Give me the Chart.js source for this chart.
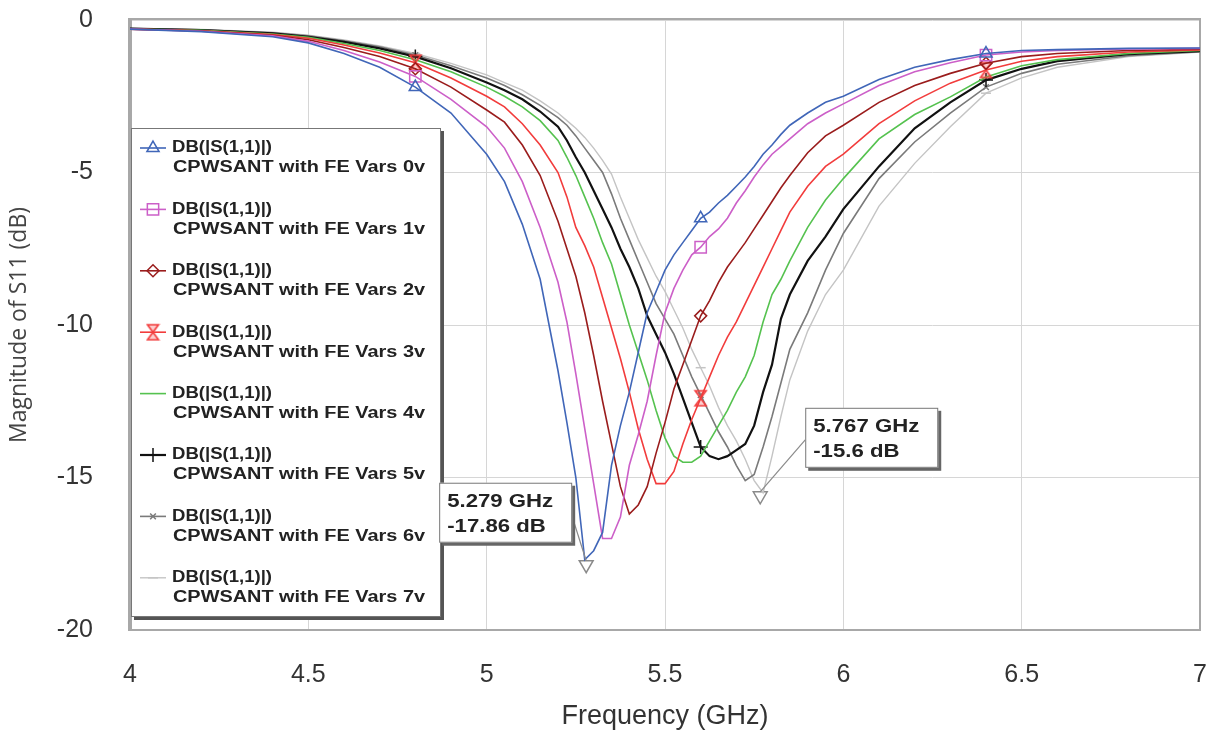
<!DOCTYPE html>
<html>
<head>
<meta charset="utf-8">
<script src="https://cdn.jsdelivr.net/npm/chart.js@4.4.1/dist/chart.umd.min.js"></script>
<style>
  html, body { margin: 0; padding: 0; background: #fff; }
  #wrap { width: 1214px; height: 734px; }
</style>
</head>
<body>
<div id="wrap"><canvas id="myChart" width="1214" height="734"></canvas></div>
<script>
// frequency sweep (GHz), shared by all traces
const freq = [4.0, 4.2, 4.4, 4.5, 4.6, 4.7, 4.8, 4.9, 5.0, 5.05, 5.1, 5.15, 5.2,
  5.225, 5.25, 5.275, 5.3, 5.325, 5.35, 5.375, 5.4, 5.425, 5.45, 5.475, 5.5, 5.525,
  5.55, 5.575, 5.6, 5.625, 5.65, 5.675, 5.7, 5.725, 5.75, 5.775, 5.8, 5.825, 5.85,
  5.9, 5.95, 6.0, 6.1, 6.2, 6.3, 6.4, 6.5, 6.6, 6.8, 7.0];

// S11 in dB, one array per bias voltage
const s11_0v = [-0.3, -0.38, -0.55, -0.75, -1.1, -1.55, -2.2, -3.05, -4.4, -5.3, -6.7, -8.5, -11.5,
  -13.2, -15.0, -17.7, -17.4, -16.8, -14.6, -13.3, -12.2, -10.9, -9.6, -8.9, -8.2, -7.7,
  -7.3, -6.9, -6.5, -6.3, -6.0, -5.75, -5.45, -5.15, -4.8, -4.4, -4.1, -3.75, -3.45,
  -3.05, -2.7, -2.5, -1.95, -1.55, -1.3, -1.1, -1.0, -0.97, -0.93, -0.92];
const s11_1v = [-0.3, -0.37, -0.52, -0.7, -1.0, -1.38, -1.85, -2.6, -3.5, -4.2, -5.3, -6.8, -8.6,
  -9.9, -11.6, -13.4, -15.2, -17.0, -17.0, -16.3, -14.6, -13.6, -12.5, -11.0, -9.6, -8.8,
  -8.2, -7.7, -7.45, -7.1, -6.85, -6.5, -6.0, -5.6, -5.15, -4.75, -4.4, -4.15, -3.9,
  -3.4, -3.05, -2.75, -2.15, -1.7, -1.4, -1.15, -1.05, -1.0, -0.95, -0.93];
const s11_2v = [-0.3, -0.36, -0.5, -0.65, -0.9, -1.2, -1.6, -2.2, -2.95, -3.35, -4.1, -5.1, -6.6,
  -7.5, -8.4, -9.6, -11.0, -12.5, -13.9, -15.3, -16.2, -15.9, -15.3, -14.2, -13.2, -12.1,
  -11.3, -10.5, -9.7, -9.2, -8.6, -8.1, -7.7, -7.3, -6.85, -6.4, -5.95, -5.5, -5.1,
  -4.35, -3.8, -3.45, -2.7, -2.15, -1.75, -1.42, -1.2, -1.1, -1.0, -0.96];
const s11_3v = [-0.3, -0.35, -0.48, -0.6, -0.82, -1.08, -1.4, -1.9, -2.5, -2.85, -3.4, -4.1, -5.0,
  -5.8, -6.8, -7.4, -8.1, -9.1, -10.1, -11.1, -12.2, -13.4, -14.4, -15.2, -15.2, -14.8,
  -13.9, -13.1, -12.4, -11.7, -11.0, -10.4, -9.9, -9.3, -8.7, -8.1, -7.5, -6.9, -6.3,
  -5.45, -4.8, -4.4, -3.4, -2.65, -2.07, -1.64, -1.35, -1.2, -1.05, -0.98];
const s11_4v = [-0.3, -0.34, -0.46, -0.57, -0.77, -1.0, -1.3, -1.7, -2.2, -2.5, -2.85, -3.3, -3.95,
  -4.5, -5.1, -5.8, -6.5, -7.3, -8.0, -9.0, -10.0, -10.9, -11.8, -12.8, -13.7, -14.3,
  -14.5, -14.5, -14.3, -13.8, -13.3, -12.8, -12.2, -11.7, -11.0, -9.9, -9.0, -8.5, -7.9,
  -6.8, -5.9, -5.2, -3.9, -3.1, -2.52, -1.87, -1.5, -1.3, -1.1, -1.0];
const s11_5v = [-0.28, -0.33, -0.44, -0.55, -0.72, -0.93, -1.2, -1.58, -2.05, -2.3, -2.6, -3.0, -3.5,
  -3.95, -4.5, -5.0, -5.6, -6.2, -6.8, -7.5, -8.1, -8.8, -9.7, -10.3, -10.9, -11.6,
  -12.4, -13.2, -14.0, -14.3, -14.4, -14.3, -14.1, -13.9, -13.3, -12.2, -11.3, -9.8, -9.0,
  -7.9, -7.1, -6.2, -4.8, -3.55, -2.7, -1.97, -1.6, -1.35, -1.12, -1.02];
const s11_6v = [-0.28, -0.32, -0.42, -0.52, -0.68, -0.88, -1.15, -1.5, -1.9, -2.15, -2.45, -2.8, -3.2,
  -3.45, -3.8, -4.2, -4.6, -5.0, -5.7, -6.5, -7.2, -7.9, -8.6, -9.3, -9.8, -10.3,
  -11.0, -11.7, -12.3, -12.9, -13.5, -14.0, -14.6, -15.1, -14.9, -14.0, -13.0, -11.9, -10.8,
  -9.6, -8.2, -7.0, -5.2, -4.0, -3.05, -2.2, -1.75, -1.45, -1.17, -1.04];
const s11_7v = [-0.28, -0.31, -0.4, -0.5, -0.65, -0.85, -1.1, -1.42, -1.8, -2.05, -2.3, -2.65, -3.05,
  -3.3, -3.55, -3.85, -4.2, -4.6, -5.05, -5.8, -6.5, -7.2, -7.8, -8.4, -8.9, -9.5,
  -10.1, -10.8, -11.4, -12.0, -12.7, -13.3, -13.8, -14.4, -15.1, -15.5, -14.3, -13.0, -11.8,
  -10.2, -9.0, -8.2, -6.1, -4.7, -3.5, -2.4, -1.9, -1.55, -1.2, -1.05];

const traceName = 'DB(|S(1,1)|)';
const voltLabels = ['CPWSANT with FE Vars 0v', 'CPWSANT with FE Vars 1v', 'CPWSANT with FE Vars 2v',
  'CPWSANT with FE Vars 3v', 'CPWSANT with FE Vars 4v', 'CPWSANT with FE Vars 5v',
  'CPWSANT with FE Vars 6v', 'CPWSANT with FE Vars 7v'];

// frequencies where the trace symbols sit
const markerFreqs = [4.8, 5.6, 6.4];

// marker readouts
const minFreqs = [5.279, 5.767];
const minValues = [-17.86, -15.6];
const minTexts = [['5.279 GHz', '-17.86 dB'], ['5.767 GHz', '-15.6 dB']];

const FONT = "'Liberation Sans', Arial, sans-serif";

// hourglass symbol for the 3v trace
function hourglass(color) {
  const c = document.createElement('canvas');
  c.width = 15; c.height = 19;
  const g = c.getContext('2d');
  g.strokeStyle = color;
  g.fillStyle = 'rgba(242,60,60,0.25)';
  g.lineWidth = 1.6;
  g.beginPath();
  g.moveTo(2, 2); g.lineTo(13, 2); g.lineTo(2, 17); g.lineTo(13, 17); g.closePath();
  g.fill();
  g.stroke();
  return c;
}

const styles = [
  { color: '#4066b8', point: 'triangle', r: 7, w: 1.6 },
  { color: '#cc5fc8', point: 'rect', r: 8, w: 1.6 },
  { color: '#9a1c1c', point: 'rectRot', r: 6, w: 1.6 },
  { color: '#f23c3c', point: hourglass('#f23c3c'), r: 7, w: 1.6 },
  { color: '#55c24f', point: 'line', r: 0, w: 1.6 },
  { color: '#111111', point: 'cross', r: 7, w: 2.2 },
  { color: '#7a7a7a', point: 'crossRot', r: 4, w: 1.6 },
  { color: '#c4c4c4', point: 'line', r: 5, w: 1.4 }
];
const allSeries = [s11_0v, s11_1v, s11_2v, s11_3v, s11_4v, s11_5v, s11_6v, s11_7v];

const datasets = allSeries.map((vals, k) => ({
  label: voltLabels[k],
  data: freq.map((f, i) => ({ x: f, y: vals[i] })),
  showLine: true,
  borderColor: styles[k].color,
  borderWidth: styles[k].w,
  pointStyle: styles[k].point,
  pointBorderColor: styles[k].color,
  pointBackgroundColor: 'rgba(0,0,0,0)',
  pointBorderWidth: 1.5,
  pointRadius: ctx => (ctx.raw && markerFreqs.includes(ctx.raw.x)) ? styles[k].r : 0,
  pointHoverRadius: 0
}));

// readout markers (inverted triangles)
datasets.push({
  label: 'markers',
  data: minFreqs.map((f, i) => ({ x: f, y: minValues[i] })),
  showLine: false,
  pointStyle: 'triangle',
  rotation: 180,
  pointRadius: 8,
  pointBorderColor: '#8a8a8a',
  pointBackgroundColor: 'rgba(255,255,255,0.6)',
  pointBorderWidth: 1.5
});

function fitText(ctx, text, x, y, width) {
  const m = ctx.measureText(text).width;
  ctx.save();
  ctx.translate(x, y);
  ctx.scale(width / m, 1);
  ctx.fillText(text, 0, 0);
  ctx.restore();
}

const overlay = {
  id: 'overlay',
  beforeDatasetsDraw(chart) {
    const { ctx, chartArea: a } = chart;
    ctx.save();
    ctx.strokeStyle = '#a8a8a8';
    ctx.lineWidth = 2;
    ctx.beginPath();
    ctx.moveTo(a.left, a.top - 1); ctx.lineTo(a.right, a.top - 1);
    ctx.lineTo(a.right, a.bottom); ctx.lineTo(a.left, a.bottom);
    ctx.stroke();
    ctx.lineWidth = 4;
    ctx.beginPath();
    ctx.moveTo(a.left, a.top - 2); ctx.lineTo(a.left, a.bottom + 1);
    ctx.stroke();
    ctx.restore();
  },
  afterDraw(chart) {
    const { ctx, chartArea: a } = chart;
    const xs = chart.scales.x, ys = chart.scales.y;
    ctx.save();

    // legend box
    const lx = a.left + 1, ly = a.top + 108, lw = 310, lh = 489;
    ctx.fillStyle = '#555';
    ctx.fillRect(lx + 3, ly + 3, lw, lh);
    ctx.fillStyle = '#fff';
    ctx.fillRect(lx, ly, lw, lh);
    ctx.strokeStyle = '#777';
    ctx.lineWidth = 1;
    ctx.strokeRect(lx + 0.5, ly + 0.5, lw - 1, lh - 1);

    ctx.font = 'bold 16px ' + FONT;
    ctx.fillStyle = '#222';
    ctx.textBaseline = 'middle';
    ctx.textAlign = 'left';
    for (let k = 0; k < voltLabels.length; k++) {
      const y0 = ly + 20 + k * 61.4;
      const st = styles[k];
      ctx.strokeStyle = st.color;
      ctx.lineWidth = st.w;
      ctx.beginPath();
      ctx.moveTo(lx + 9, y0); ctx.lineTo(lx + 35, y0);
      ctx.stroke();
      if (st.r > 0) {
        ctx.fillStyle = 'rgba(0,0,0,0)';
        ctx.lineWidth = 1.5;
        Chart.helpers.drawPoint(ctx, { pointStyle: st.point, radius: st.r, borderWidth: 1.5, rotation: 0 }, lx + 22, y0);
      }
      ctx.fillStyle = '#222';
      fitText(ctx, traceName, lx + 41, y0, 100);
      fitText(ctx, voltLabels[k], lx + 42, y0 + 20, 252);
    }

    // marker readout boxes
    const offs = [[-147, -82], [45, -88]];
    const leadFrom = [[134, 37], [0, 32]];
    for (let i = 0; i < minFreqs.length; i++) {
      const px = xs.getPixelForValue(minFreqs[i]);
      const py = ys.getPixelForValue(minValues[i]);
      const bx = px + offs[i][0], by = py + offs[i][1];
      const bw = 133, bh = 60;
      ctx.strokeStyle = '#8a8a8a';
      ctx.lineWidth = 1.2;
      ctx.beginPath();
      ctx.moveTo(bx + leadFrom[i][0], by + leadFrom[i][1]);
      ctx.lineTo(px, py - 4);
      ctx.stroke();
      ctx.fillStyle = '#666';
      ctx.fillRect(bx + 3, by + 3, bw, bh);
      ctx.fillStyle = '#fff';
      ctx.fillRect(bx, by, bw, bh);
      ctx.strokeStyle = '#777';
      ctx.lineWidth = 1;
      ctx.strokeRect(bx + 0.5, by + 0.5, bw - 1, bh - 1);
      ctx.fillStyle = '#222';
      ctx.font = 'bold 19px ' + FONT;
      fitText(ctx, minTexts[i][0], bx + 8, by + 19, 106);
      const w2 = ctx.measureText(minTexts[i][1]).width * 106 / ctx.measureText(minTexts[i][0]).width;
      fitText(ctx, minTexts[i][1], bx + 8, by + 44, w2);
    }
    ctx.restore();
  }
};

const chartArea = document.getElementById('myChart').getContext('2d');
const myChart = new Chart(chartArea, {
  type: 'scatter',
  data: { datasets: datasets },
  options: {
    responsive: false,
    animation: false,
    layout: { padding: { top: 20, right: 14, left: 0, bottom: 0 } },
    plugins: { legend: { display: false }, tooltip: { enabled: false } },
    scales: {
      x: {
        type: 'linear', min: 4, max: 7,
        ticks: { stepSize: 0.5, padding: 3, color: '#333', font: { family: FONT, size: 25 }, maxRotation: 0,
          callback: v => String(v) },
        grid: { color: '#d6d6d6', drawTicks: true, tickLength: 27, tickColor: 'rgba(0,0,0,0)' },
        border: { display: false },
        title: { display: true, text: 'Frequency (GHz)', color: '#333', font: { family: FONT, size: 27 }, padding: { top: 0, bottom: 1 } },
        afterFit: s => { s.height = 104; }
      },
      y: {
        min: -20, max: 0,
        ticks: { stepSize: 5, padding: 3, color: '#333', font: { family: FONT, size: 25 } },
        grid: { color: '#d6d6d6', drawTicks: true, tickLength: 34, tickColor: 'rgba(0,0,0,0)' },
        border: { display: false },
        title: { display: true, text: 'Magnitude of S11 (dB)', color: '#444', font: { family: "'Open Sans', sans-serif", size: 23 }, padding: { top: 6, bottom: 0 } },
        afterFit: s => { s.width = 130; }
      }
    }
  },
  plugins: [overlay]
});
</script>
</body>
</html>
